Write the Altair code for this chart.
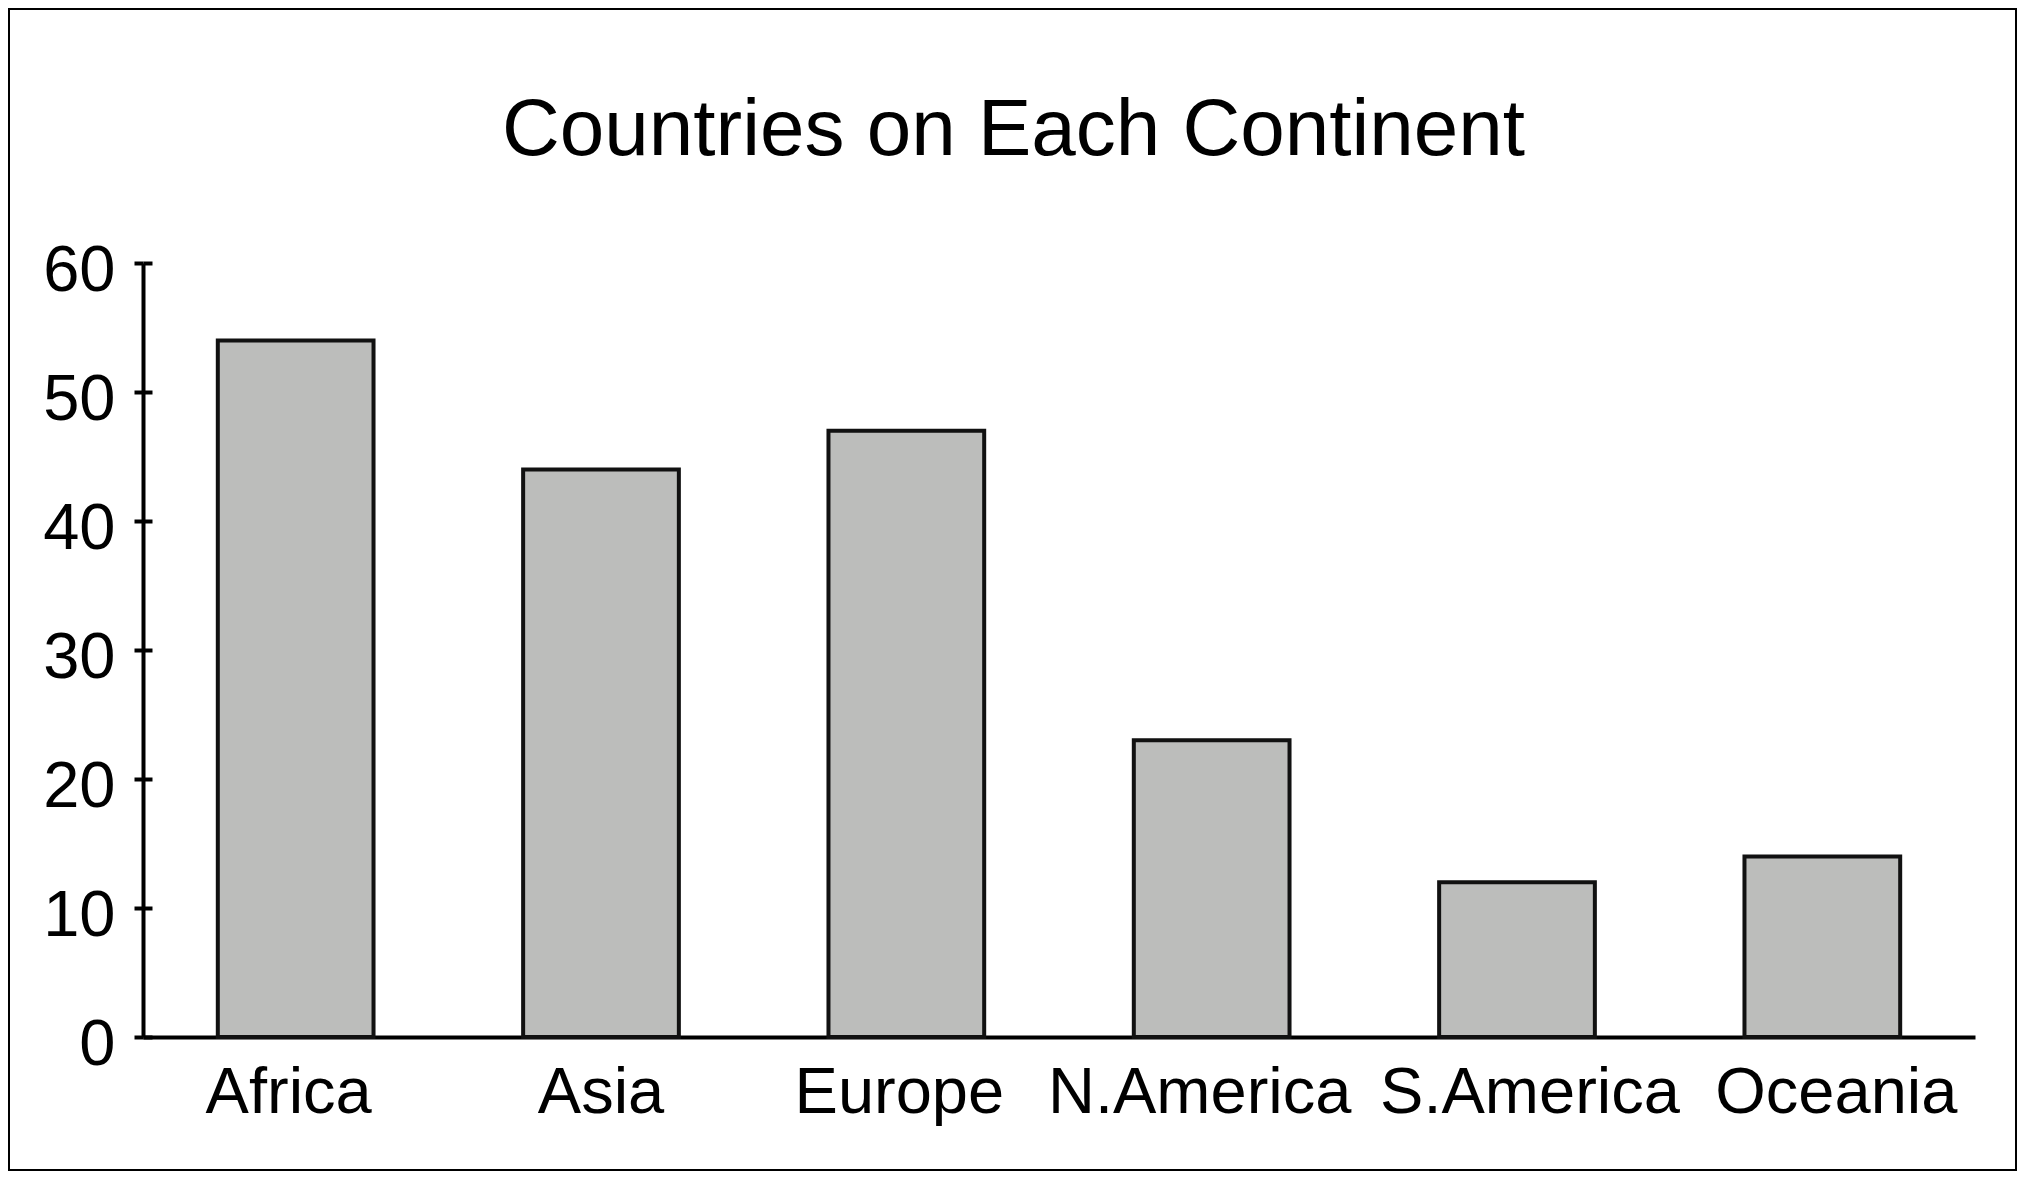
import altair as alt
import pandas as pd

continents = ["Africa", "Asia", "Europe", "N.America", "S.America", "Oceania"]
countries = [54, 44, 47, 23, 12, 14]
y_ticks = [0, 10, 20, 30, 40, 50, 60]
title_text = "Countries on Each Continent"

df = pd.DataFrame({"continent": continents, "countries": countries})

FONT = "Liberation Sans"
W, H = 2009, 1163
AX_X = 135          # y-axis position inside the framed area
X_END = 1967        # end of x-axis line
Y0, Y60 = 1029, 255 # pixel rows of 0 and 60
TICK = 9
LW = 4

# small horizontal nudges of the category labels, as in the reference layout
label_nudge = {"Africa": -7, "Europe": -7, "N.America": -12, "S.America": 13, "Oceania": 14}
x_label_offset = {
    "condition": [
        {"test": f"datum.value === '{k}'", "value": v} for k, v in label_nudge.items()
    ],
    "value": 0,
}

y_scale = alt.Scale(domain=[0, 60], range=[Y0, Y60], nice=False)

bars = alt.Chart(df).mark_bar(
    fill="#bcbdbb", stroke="#111111", strokeWidth=LW, opacity=1
).encode(
    x=alt.X(
        "continent:N",
        sort=continents,
        scale=alt.Scale(range=[AX_X, X_END], paddingInner=0.49, paddingOuter=0.245),
        axis=alt.Axis(
            title=None, orient="bottom", offset=-(H - Y0),
            domainColor="black", domainWidth=LW,
            ticks=False, tickSize=0, labelPadding=24,
            labelFont=FONT, labelFontSize=65, labelColor="black",
            labelAngle=0, labelBaseline="top", labelLimit=1000,
            labelOverlap=False, labelOffset=x_label_offset,
        ),
    ),
    y=alt.Y(
        "countries:Q",
        scale=y_scale,
        axis=alt.Axis(
            title=None, orient="left", offset=-AX_X, values=y_ticks,
            domainColor="black", domainWidth=LW,
            tickColor="black", tickWidth=LW, tickSize=TICK,
            labelFont=FONT, labelFontSize=65, labelColor="black",
            labelPadding=19, labelOffset=7, labelLimit=1000, grid=False,
        ),
    ),
)

inner_ticks = alt.Chart(df).mark_point(opacity=0).encode(
    y=alt.Y(
        "countries:Q",
        scale=y_scale,
        axis=alt.Axis(
            title=None, orient="left", offset=-(AX_X + TICK), values=y_ticks,
            domain=False, labels=False,
            tickColor="black", tickWidth=LW, tickSize=TICK, grid=False,
        ),
    ),
)

chart = alt.layer(bars, inner_ticks).resolve_scale(y="shared").resolve_axis(
    y="independent"
).properties(
    width=W,
    height=H,
    padding=0,
    background="white",
    title=alt.Title(
        title_text, font=FONT, fontSize=80, fontWeight="normal", color="black",
        anchor="middle", frame="group", offset=-227, baseline="alphabetic", dx=1,
    ),
).configure_view(stroke="black", strokeWidth=LW).configure_axis(grid=False)

chart.save("out.html", embed_options={"renderer": "svg", "actions": False})
